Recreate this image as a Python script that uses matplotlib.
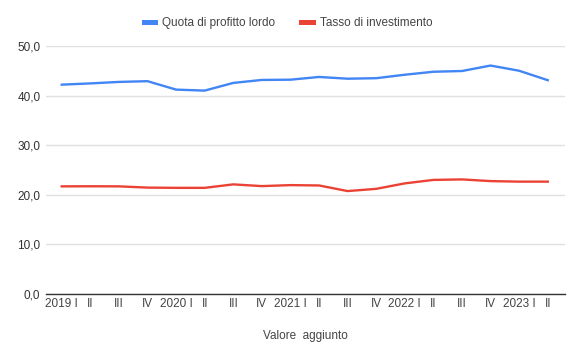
import matplotlib

matplotlib.use("Agg")
import matplotlib.pyplot as plt
from matplotlib.lines import Line2D

plt.rcParams["font.family"] = ["Liberation Sans", "DejaVu Sans"]

quarters = ["2019 I", "II", "III", "IV", "2020 I", "II", "III", "IV",
            "2021 I", "II", "III", "IV", "2022 I", "II", "III", "IV",
            "2023 I", "II"]
profit_share = [42.2, 42.45, 42.75, 42.9, 41.2, 41.0, 42.55, 43.15, 43.2,
                43.75, 43.4, 43.5, 44.2, 44.8, 44.95, 46.05, 45.0, 43.1]
investment_rate = [21.7, 21.72, 21.7, 21.45, 21.4, 21.4, 22.1, 21.75, 21.95,
                   21.88, 20.75, 21.2, 22.3, 23.0, 23.1, 22.76, 22.65, 22.65]
y_ticks = [0, 10, 20, 30, 40, 50]

BLUE = "#4285F4"
RED = "#EA4335"

fig = plt.figure(figsize=(5.8, 3.59), dpi=100)
ax = fig.add_axes([0.0793, 0.181, 0.8947, 0.691])

x = list(range(len(quarters)))
ax.plot(x, profit_share, color=BLUE, linewidth=1.7, solid_joinstyle="round")
ax.plot(x, investment_rate, color=RED, linewidth=1.7, solid_joinstyle="round")

ax.set_ylim(0, 50)
ax.set_xlim(-0.55, 17.6)
ax.set_yticks(y_ticks)
ax.set_yticklabels([f"{v:.1f}".replace(".", ",") for v in y_ticks])
ax.set_xticks(x)
ax.set_xticklabels(quarters)
ax.tick_params(axis="both", length=0, labelsize=8.5, colors="#444444")
ax.tick_params(axis="x", pad=3)
ax.tick_params(axis="y", pad=4)
for lbl in ax.get_yticklabels():
    lbl.set_color("#333333")

ax.grid(axis="y", color="#e0e0e0", linewidth=1)
ax.set_axisbelow(True)
for side in ("top", "right", "left"):
    ax.spines[side].set_visible(False)
ax.spines["bottom"].set_color("#333333")
ax.spines["bottom"].set_linewidth(1)
ax.spines["bottom"].set_zorder(3)

ax.set_xlabel("Valore  aggiunto", fontsize=8.5, color="#444444", labelpad=14)

handles = [Line2D([0], [0], color=BLUE, linewidth=3.6),
           Line2D([0], [0], color=RED, linewidth=3.6)]
fig.legend(handles, ["Quota di profitto lordo", "Tasso di investimento"],
           loc="center", bbox_to_anchor=(0.497, 0.935), ncol=2, frameon=False,
           fontsize=8.5, handlelength=0.95, handletextpad=0.6, columnspacing=2.2,
           labelcolor="#444444")

fig.savefig("out.png", dpi=100)
